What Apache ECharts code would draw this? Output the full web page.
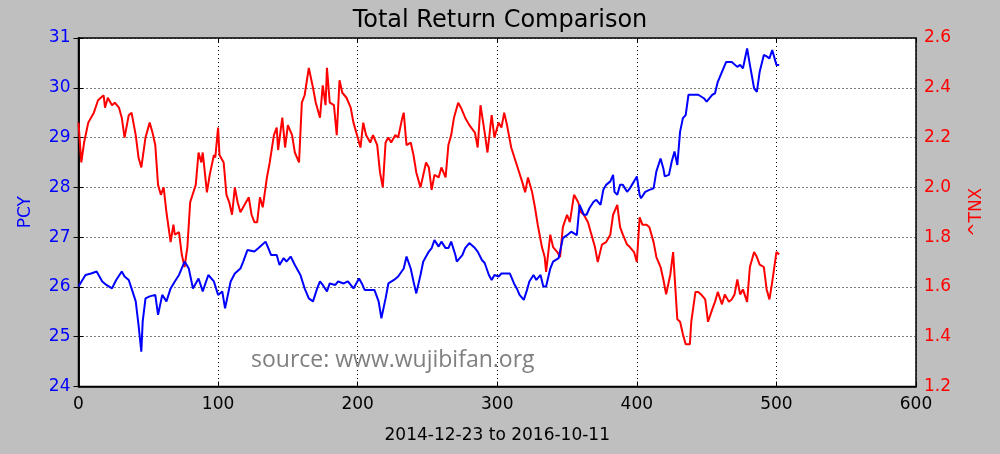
<!DOCTYPE html>
<html>
<head>
<meta charset="utf-8">
<script src="https://cdn.jsdelivr.net/npm/echarts@6/dist/echarts.min.js"></script>
<style>
html,body{margin:0;padding:0;background:#bfbfbf;}
#chart{width:1000px;height:454px;}
</style>
</head>
<body>
<div id="chart"></div>
<script>
var titleText = "Total Return Comparison";
var xAxisName = "2014-12-23 to 2016-10-11";
var leftName = "PCY";
var rightName = "^TNX";
var sourceText = "source: www.wujibifan.org";

var pcyX = [0,5,9,13,17,20,24,27,31,33,36,38,41,43,45,46,48,51,55,57,60,63,66,69,72,76,79,82,86,89,93,97,100,103,105,109,112,116,118,121,126,129,134,136,138,142,144,147,149,152,155,159,162,165,168,171,173,175,178,180,184,186,190,193,197,201,203,205,209,212,215,217,220,222,226,229,233,235,238,240,242,245,247,251,253,255,258,260,263,265,267,270,271,275,277,280,284,286,289,291,294,296,298,301,303,306,309,312,314,316,319,321,323,326,328,331,333,335,338,340,344,347,350,353,357,359,362,364,366,369,371,374,376,378,381,383,384,386,388,390,393,395,398,400,402,403,406,409,412,414,417,419,420,423,425,427,429,431,433,435,437,441,444,448,450,454,456,458,461,464,468,472,474,476,479,481,484,486,488,491,493,495,497,500,502];
var pcyY = [26.01,26.24,26.27,26.31,26.11,26.04,25.97,26.14,26.31,26.21,26.14,25.97,25.71,25.24,24.70,25.31,25.77,25.81,25.84,25.44,25.84,25.71,25.97,26.11,26.24,26.51,26.37,25.97,26.17,25.91,26.24,26.11,25.84,25.91,25.57,26.11,26.27,26.37,26.51,26.74,26.71,26.78,26.91,26.78,26.64,26.64,26.44,26.58,26.51,26.61,26.44,26.24,25.97,25.77,25.71,25.97,26.11,26.04,25.91,26.07,26.04,26.11,26.07,26.11,25.97,26.17,26.07,25.94,25.94,25.94,25.71,25.37,25.77,26.07,26.14,26.21,26.37,26.61,26.37,26.11,25.87,26.24,26.51,26.71,26.78,26.94,26.81,26.91,26.78,26.78,26.91,26.64,26.51,26.64,26.78,26.88,26.78,26.71,26.54,26.48,26.24,26.14,26.24,26.21,26.27,26.27,26.27,26.07,25.97,25.84,25.74,25.91,26.11,26.24,26.14,26.24,26.01,26.01,26.37,26.51,26.58,26.98,27.04,27.11,27.04,27.65,27.45,27.45,27.58,27.71,27.75,27.65,27.95,28.05,28.12,28.25,27.91,27.85,28.05,28.05,27.91,27.98,28.12,28.22,27.85,27.78,27.91,27.95,27.98,28.32,28.58,28.38,28.22,28.25,28.52,28.72,28.45,29.12,29.39,29.45,29.86,29.86,29.86,29.79,29.72,29.86,29.89,30.12,30.32,30.52,30.52,30.42,30.46,30.39,30.79,30.46,29.99,29.92,30.32,30.66,30.63,30.59,30.76,30.46,30.46];

var tnxX = [0,2,4,7,11,14,18,19,21,24,26,29,31,33,36,38,41,43,45,48,51,53,55,57,59,61,63,66,68,69,72,74,76,78,80,84,86,88,89,92,94,97,98,100,101,104,106,108,110,112,114,116,118,122,124,126,128,130,132,135,137,140,142,143,146,148,150,153,155,158,160,162,165,168,170,173,175,177,178,180,183,185,187,189,192,195,197,199,202,204,206,209,211,214,216,218,220,222,224,227,229,232,233,235,238,240,242,245,247,249,251,253,255,258,260,263,265,267,269,272,274,277,280,284,286,288,291,293,296,298,301,303,305,307,310,314,318,320,322,325,327,329,332,334,335,338,340,343,345,347,350,352,355,358,360,362,365,367,370,372,375,378,381,383,386,388,390,393,395,398,400,402,404,407,409,412,414,417,419,421,424,426,429,431,433,435,438,439,442,444,446,449,451,454,456,458,461,463,466,468,470,472,474,476,479,481,484,486,488,491,493,495,497,500,502];
var tnxY = [2.26,2.10,2.18,2.26,2.30,2.35,2.37,2.32,2.36,2.33,2.34,2.32,2.28,2.20,2.29,2.30,2.21,2.12,2.08,2.20,2.26,2.22,2.17,2.01,1.97,2.00,1.90,1.78,1.85,1.81,1.82,1.73,1.68,1.76,1.94,2.01,2.14,2.10,2.14,1.98,2.05,2.13,2.12,2.24,2.13,2.10,1.97,1.94,1.89,2.00,1.94,1.90,1.92,1.96,1.89,1.86,1.86,1.96,1.92,2.04,2.10,2.21,2.24,2.15,2.28,2.16,2.25,2.21,2.14,2.10,2.34,2.37,2.48,2.40,2.34,2.28,2.41,2.33,2.48,2.34,2.33,2.21,2.43,2.38,2.36,2.32,2.26,2.22,2.16,2.26,2.21,2.18,2.21,2.17,2.06,2.00,2.18,2.20,2.18,2.21,2.20,2.28,2.30,2.17,2.18,2.13,2.06,2.00,2.05,2.10,2.08,1.99,2.05,2.04,2.08,2.04,2.17,2.21,2.28,2.34,2.32,2.28,2.25,2.22,2.16,2.33,2.22,2.14,2.29,2.20,2.26,2.24,2.30,2.25,2.16,2.09,2.02,1.98,2.04,1.98,1.92,1.85,1.76,1.72,1.66,1.81,1.76,1.74,1.72,1.84,1.89,1.86,1.97,1.94,1.90,1.89,1.86,1.82,1.76,1.70,1.77,1.78,1.81,1.89,1.93,1.84,1.81,1.77,1.76,1.74,1.70,1.88,1.85,1.85,1.84,1.78,1.72,1.68,1.63,1.57,1.65,1.74,1.47,1.46,1.41,1.37,1.37,1.46,1.58,1.58,1.57,1.55,1.46,1.51,1.54,1.58,1.53,1.57,1.54,1.55,1.57,1.63,1.57,1.59,1.54,1.68,1.74,1.72,1.69,1.68,1.59,1.55,1.62,1.74,1.73];

var leftTicks = [24,25,26,27,28,29,30,31];
var rightTicks = ["1.2","1.4","1.6","1.8","2.0","2.2","2.4","2.6"];

function pairs(xs, ys){ var o=[]; for(var i=0;i<xs.length;i++){ o.push([xs[i], ys[i]]); } return o; }

var chart = echarts.init(document.getElementById('chart'), null, {renderer:'canvas'});
var FONT = 'DejaVu Sans';
var dotted = {show:true, lineStyle:{color:'#000', type:[1,3], width:1}};
chart.setOption({
  backgroundColor:'#bfbfbf',
  animation:false,
  title:{text:titleText, left:'center', top:4, textStyle:{fontFamily:FONT, fontSize:24, fontWeight:'normal', color:'#000'}},
  grid:{left:78.5, right:84, top:38, bottom:67.5, show:true, backgroundColor:'#fff', borderColor:'#000', borderWidth:1.5},
  xAxis:[{
    type:'value', min:0, max:600, interval:100, position:'bottom',
    name:xAxisName, nameLocation:'middle', nameGap:41,
    nameTextStyle:{fontFamily:FONT, fontSize:17, color:'#000'},
    axisLine:{show:true, lineStyle:{color:'#000', width:1.5}},
    axisTick:{show:true, inside:true, length:5, lineStyle:{color:'#000'}},
    axisLabel:{fontFamily:FONT, fontSize:17, color:'#000', margin:10},
    splitLine:dotted
  },{
    type:'value', min:0, max:600, interval:100, position:'top',
    axisLine:{show:false}, axisTick:{show:true, inside:true, length:5, lineStyle:{color:'#000'}},
    axisLabel:{show:false}, splitLine:{show:false}
  }],
  yAxis:[{
    type:'value', min:24, max:31, interval:1, position:'left',
    name:leftName, nameLocation:'middle', nameGap:44, nameRotate:90,
    nameTextStyle:{fontFamily:FONT, fontSize:17, color:'#0000ff'},
    axisLine:{show:true, lineStyle:{color:'#000', width:1.5}},
    axisTick:{show:true, inside:true, length:5, lineStyle:{color:'#000'}},
    axisLabel:{fontFamily:FONT, fontSize:17, color:'#0000ff', margin:8,
      formatter:function(v){ return leftTicks.indexOf(v)>=0 ? String(v) : ''; }},
    splitLine:dotted
  },{
    type:'value', min:1.2, max:2.6, interval:0.2, position:'right',
    name:rightName, nameLocation:'middle', nameGap:52, nameRotate:90,
    nameTextStyle:{fontFamily:FONT, fontSize:17, color:'#ff0000'},
    axisLine:{show:true, lineStyle:{color:'#000', width:1.5}},
    axisTick:{show:true, inside:true, length:5, lineStyle:{color:'#000'}},
    axisLabel:{fontFamily:FONT, fontSize:17, color:'#ff0000', margin:8,
      formatter:function(v){ var s=v.toFixed(1); return rightTicks.indexOf(s)>=0 ? s : ''; }},
    splitLine:{show:false}
  }],
  graphic:[{
    type:'text', left:251, top:349, z:10,
    style:{text:sourceText, fontFamily:'Open Sans', fontSize:23, fill:'#7f7f7f'}
  }],
  series:[{
    name:leftName, type:'line', xAxisIndex:0, yAxisIndex:0, data:pairs(pcyX, pcyY),
    showSymbol:false, lineStyle:{color:'#0000ff', width:2}, itemStyle:{color:'#0000ff'}, z:3
  },{
    name:rightName, type:'line', xAxisIndex:0, yAxisIndex:1, data:pairs(tnxX, tnxY),
    showSymbol:false, lineStyle:{color:'#ff0000', width:2}, itemStyle:{color:'#ff0000'}, z:2
  }]
});
</script>
</body>
</html>
